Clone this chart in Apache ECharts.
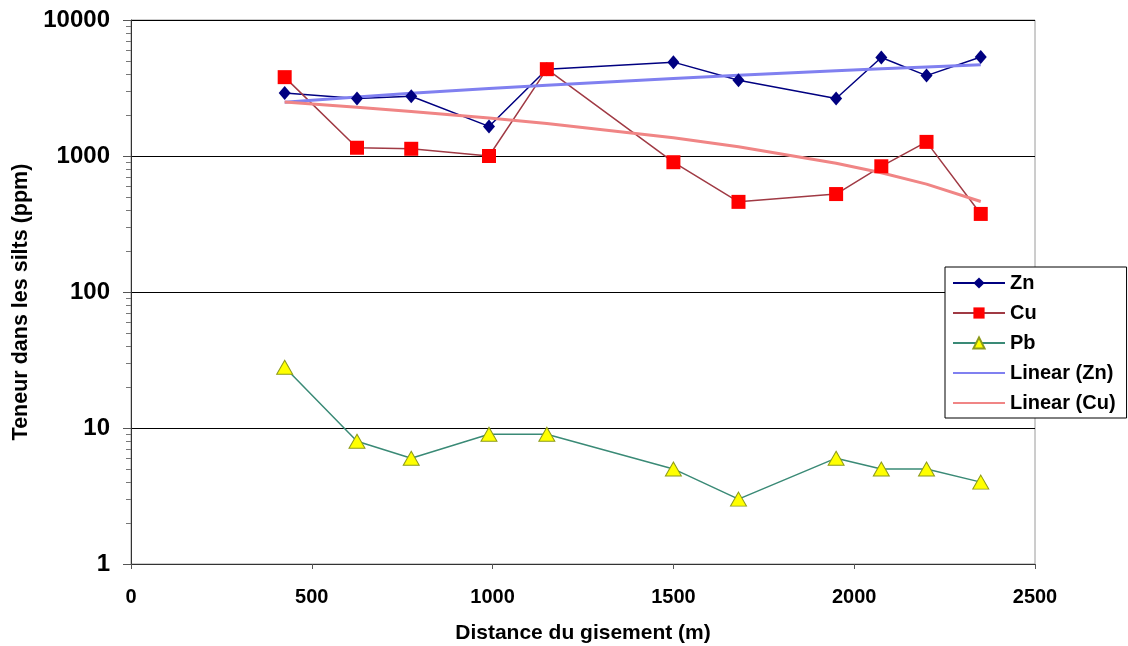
<!DOCTYPE html>
<html>
<head>
<meta charset="utf-8">
<script src="https://cdn.jsdelivr.net/npm/echarts@6/dist/echarts.min.js"></script>
<style>
html,body{margin:0;padding:0;background:#fff;}
#chart{width:1128px;height:646px;}
</style>
</head>
<body>
<div id="chart"></div>
<script>
// Data
var distances = [425, 625, 775, 990, 1150, 1500, 1680, 1950, 2075, 2200, 2350];
var zn = [2900, 2650, 2750, 1650, 4350, 4900, 3600, 2650, 5300, 3900, 5350];
var cu = [3800, 1150, 1130, 1000, 4350, 900, 460, 525, 840, 1270, 375];
var pb = [28, 8, 6, 9, 9, 5, 3, 6, 5, 5, 4];
var seriesNames = ['Zn', 'Cu', 'Pb', 'Linear (Zn)', 'Linear (Cu)'];

// Least-squares linear trend (as the "Linear" trendline of the original), evaluated at observed x
function linearFit(xs, ys) {
  var n = xs.length, mx = 0, my = 0;
  for (var i = 0; i < n; i++) { mx += xs[i]; my += ys[i]; }
  mx /= n; my /= n;
  var sxy = 0, sxx = 0;
  for (var j = 0; j < n; j++) { sxy += (xs[j] - mx) * (ys[j] - my); sxx += (xs[j] - mx) * (xs[j] - mx); }
  var b = sxy / sxx, a = my - b * mx;
  return xs.map(function (x) { return [x, a + b * x]; });
}
function pairs(xs, ys) { return xs.map(function (x, i) { return [x, ys[i]]; }); }
function plain(v) { return String(v); }

var FONT = 'Liberation Sans, Arial, sans-serif';
var chart = echarts.init(document.getElementById('chart'), null, {renderer: 'canvas'});
chart.setOption({
  backgroundColor: '#ffffff',
  animation: false,
  grid: {left: 131, right: 93, top: 20, bottom: 82, show: true, borderColor: '#9a9a9a', borderWidth: 1,
         backgroundColor: 'transparent', containLabel: false, outerBoundsMode: 'none'},
  legend: {
    orient: 'vertical', left: 945, top: 267,
    itemWidth: 52, itemHeight: 14, itemGap: 10,
    padding: [6, 11, 5, 7],
    backgroundColor: '#ffffff', borderColor: '#000000', borderWidth: 1,
    textStyle: {fontFamily: FONT, fontWeight: 'bold', fontSize: 20, color: '#000'},
    data: [
      {name: seriesNames[0]},
      {name: seriesNames[1]},
      {name: seriesNames[2]},
      {name: seriesNames[3], itemStyle: {opacity: 0}},
      {name: seriesNames[4], itemStyle: {opacity: 0}}
    ]
  },
  xAxis: {
    type: 'value', min: 0, max: 2500, interval: 500,
    name: 'Distance du gisement (m)', nameLocation: 'middle', nameGap: 59,
    nameTextStyle: {fontFamily: FONT, fontWeight: 'bold', fontSize: 21, color: '#000'},
    axisLine: {show: true, lineStyle: {color: '#333', width: 1}},
    axisTick: {show: true, inside: false, length: 5, lineStyle: {color: '#555'}},
    axisLabel: {fontFamily: FONT, fontWeight: 'bold', fontSize: 20, color: '#000', margin: 23, formatter: plain},
    splitLine: {show: false}
  },
  yAxis: {
    type: 'log', logBase: 10, min: 1, max: 10000,
    name: 'Teneur dans les silts (ppm)', nameLocation: 'middle', nameGap: 96,
    nameTextStyle: {fontFamily: FONT, fontWeight: 'bold', fontSize: 21.5, color: '#000', padding: [0, 20, 0, 0]},
    axisLine: {show: true, lineStyle: {color: '#333', width: 1}},
    axisTick: {show: true, inside: false, length: 8, lineStyle: {color: '#555'}},
    minorTick: {show: true, splitNumber: 9, length: 5, lineStyle: {color: '#777'}},
    axisLabel: {fontFamily: FONT, fontWeight: 'bold', fontSize: 24, color: '#000', margin: 21, formatter: plain},
    splitLine: {show: true, lineStyle: {color: '#000', width: 1}}
  },
  series: [
    {name: 'Zn', type: 'line', data: pairs(distances, zn), symbol: 'diamond', symbolSize: [12, 14],
     itemStyle: {color: '#000080'}, lineStyle: {color: '#000080', width: 1.5}},
    {name: 'Cu', type: 'line', data: pairs(distances, cu), symbol: 'rect', symbolSize: 14,
     itemStyle: {color: '#ff0000'}, lineStyle: {color: '#a03a44', width: 1.5}},
    {name: 'Pb', type: 'line', data: pairs(distances, pb), symbol: 'triangle', symbolSize: [16, 14],
     itemStyle: {color: '#ffff00', borderColor: '#8c9a1c', borderWidth: 1}, lineStyle: {color: '#3a8a76', width: 1.5}},
    {name: 'Linear (Zn)', type: 'line', data: linearFit(distances, zn), symbol: 'none', showSymbol: false,
     itemStyle: {color: '#8080f0'}, lineStyle: {color: '#8080f0', width: 3}},
    {name: 'Linear (Cu)', type: 'line', data: linearFit(distances, cu), symbol: 'none', showSymbol: false,
     itemStyle: {color: '#f08585'}, lineStyle: {color: '#f08585', width: 3}}
  ]
});
</script>
</body>
</html>
